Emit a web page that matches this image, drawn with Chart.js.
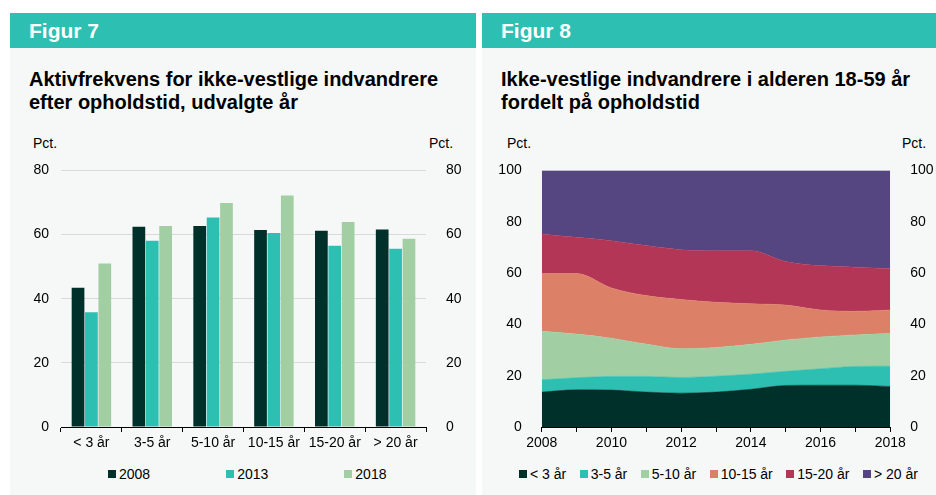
<!DOCTYPE html>
<html>
<head>
<meta charset="utf-8">
<script src="https://cdn.jsdelivr.net/npm/chart.js@4/dist/chart.umd.min.js"></script>
<style>
  body { margin: 0; width: 936px; height: 495px; background: #fff; position: relative; overflow: hidden;
         font-family: "Liberation Sans", Arial, sans-serif; color: #000; }
  .panel { position: absolute; top: 13px; bottom: 0; background: #f6f8f8; }
  .head { height: 35px; background: #2cbfb2; color: #fff; font-weight: bold; font-size: 21px;
          line-height: 35px; padding-left: 19px; }
  .title { position: absolute; left: 19px; top: 55px; font-weight: bold; font-size: 20px; line-height: 23px; }
  .pct { position: absolute; top: 135px; font-size: 14px; }
  canvas { position: absolute; }
  .legend { position: absolute; top: 466px; display: flex; font-size: 14px; line-height: 16px; }
  .legend span.item { display: flex; align-items: center; }
  .legend i { display: inline-block; width: 8px; height: 8px; margin-right: 3px; }
</style>
</head>
<body>
<div class="panel" style="left:10px;width:466px">
  <div class="head">Figur 7</div>
  <div class="title">Aktivfrekvens for ikke-vestlige indvandrere<br>efter opholdstid, udvalgte år</div>
</div>
<div class="panel" style="left:482px;width:454px">
  <div class="head">Figur 8</div>
  <div class="title">Ikke-vestlige indvandrere i alderen 18-59 år<br>fordelt på opholdstid</div>
</div>
<div class="pct" style="left:33px">Pct.</div>
<div class="pct" style="left:429px">Pct.</div>
<div class="pct" style="left:507px">Pct.</div>
<div class="pct" style="left:902px">Pct.</div>

<canvas id="fig7" style="left:10px;top:150px" width="466" height="305"></canvas>
<canvas id="fig8" style="left:482px;top:150px" width="454" height="305"></canvas>
<div class="legend" id="leg7" style="left:108px"></div>
<div class="legend" id="leg8" style="left:519px"></div>

<script>
// Figur 7 - aktivfrekvens
var stayGroups = ['< 3 år', '3-5 år', '5-10 år', '10-15 år', '15-20 år', '> 20 år'];
var rate2008 = [43.4, 62.4, 62.7, 61.4, 61.2, 61.6];
var rate2013 = [35.8, 58.1, 65.3, 60.5, 56.5, 55.6];
var rate2018 = [51.0, 62.7, 69.8, 72.2, 63.9, 58.7];
var barTicks = [0, 20, 40, 60, 80];

// Figur 8 - fordeling paa opholdstid
var years = ['2008', '2009', '2010', '2011', '2012', '2013', '2014', '2015', '2016', '2017', '2018'];
var shareUnder3 = [13.6, 14.5, 14.4, 13.6, 13.2, 13.6, 14.7, 16.2, 16.3, 16.3, 15.8];
var share3to5 = [4.8, 4.7, 5.3, 6.1, 6.1, 6.2, 5.9, 5.5, 6.4, 7.3, 7.9];
var share5to10 = [18.9, 17.0, 14.9, 12.6, 11.2, 11.2, 11.6, 12.2, 12.4, 12.3, 12.7];
var share10to15 = [22.5, 23.6, 19.6, 18.9, 19.2, 17.6, 15.8, 13.6, 10.5, 9.2, 9.2];
var share15to20 = [15.4, 14.1, 18.4, 19.5, 19.4, 20.1, 20.7, 17.0, 17.3, 17.2, 16.2];
var shareOver20 = [24.8, 26.1, 27.4, 29.3, 30.9, 31.3, 31.3, 35.5, 37.1, 37.7, 38.2];
var areaTicks = [0, 20, 40, 60, 80, 100];

var DARK = '#00302a', TEAL = '#2cbfb2', LIGHT = '#a2cea4', ORANGE = '#dc8067', RED = '#b33656', PURPLE = '#554580';

Chart.defaults.font.family = '"Liberation Sans", Arial, sans-serif';
Chart.defaults.font.size = 14;
Chart.defaults.color = '#000';
Chart.defaults.animation = false;

function makeLegend(id, datasets, gap) {
    var el = document.getElementById(id);
    datasets.forEach(function(ds, i) {
        var item = document.createElement('span');
        item.className = 'item';
        if (i < datasets.length - 1) item.style.marginRight = gap + 'px';
        item.innerHTML = '<i style="background:' + ds.backgroundColor + '"></i>' + ds.label;
        el.appendChild(item);
    });
}

function yAxis(pos, max, width, grid) {
    return {
        position: pos, min: 0, max: max, stacked: pos === 'left' ? undefined : false,
        afterBuildTicks: function(s) { s.ticks = (max === 80 ? barTicks : areaTicks).map(function(v) { return {value: v}; }); },
        afterFit: function(s) { s.width = width; },
        ticks: { padding: 12 },
        border: { display: false },
        grid: grid ? { color: '#d9d9d9', drawTicks: false } : { display: false }
    };
}

var barSets = [
    { label: '2008', data: rate2008, backgroundColor: DARK },
    { label: '2013', data: rate2013, backgroundColor: TEAL },
    { label: '2018', data: rate2018, backgroundColor: LIGHT }
];

new Chart(document.getElementById('fig7'), {
    type: 'bar',
    data: { labels: stayGroups, datasets: barSets.map(function(d) {
        return Object.assign({ categoryPercentage: 0.66, barPercentage: 0.95 }, d);
    }) },
    options: {
        responsive: false,
        layout: { padding: { top: 18.3 } },
        plugins: { legend: { display: false }, tooltip: { enabled: false } },
        scales: {
            x: {
                afterFit: function(s) { s.height = 28; },
                border: { color: '#000', width: 1 },
                grid: { drawOnChartArea: false, color: '#000', tickLength: 5 },
                ticks: { padding: 3, maxRotation: 0, autoSkip: false }
            },
            y: yAxis('left', 80, 51, true),
            y2: yAxis('right', 80, 50, false)
        }
    }
});

var areaSets = [
    { label: '< 3 år', data: shareUnder3, backgroundColor: DARK, fill: 'origin' },
    { label: '3-5 år', data: share3to5, backgroundColor: TEAL, fill: '-1' },
    { label: '5-10 år', data: share5to10, backgroundColor: LIGHT, fill: '-1' },
    { label: '10-15 år', data: share10to15, backgroundColor: ORANGE, fill: '-1' },
    { label: '15-20 år', data: share15to20, backgroundColor: RED, fill: '-1' },
    { label: '> 20 år', data: shareOver20, backgroundColor: PURPLE, fill: '-1' }
];

new Chart(document.getElementById('fig8'), {
    type: 'line',
    data: { labels: years, datasets: areaSets.map(function(d) {
        return Object.assign({ borderColor: d.backgroundColor, borderWidth: 0.5, pointRadius: 0,
                               cubicInterpolationMode: 'monotone' }, d);
    }) },
    options: {
        responsive: false,
        layout: { padding: { top: 18.3 } },
        plugins: { legend: { display: false }, tooltip: { enabled: false } },
        scales: {
            x: {
                afterFit: function(s) { s.height = 28; },
                border: { color: '#000', width: 1 },
                grid: { drawOnChartArea: false, color: '#000', tickLength: 5 },
                ticks: { padding: 3, maxRotation: 0, autoSkip: false,
                         callback: function(v, i) { return i % 2 === 0 ? years[i] : ''; } }
            },
            y: Object.assign(yAxis('left', 100, 59.7, false), { stacked: true }),
            y2: yAxis('right', 100, 45.7, false)
        }
    }
});

makeLegend('leg7', barSets, 76);
makeLegend('leg8', areaSets, 13.5);
</script>
</body>
</html>
